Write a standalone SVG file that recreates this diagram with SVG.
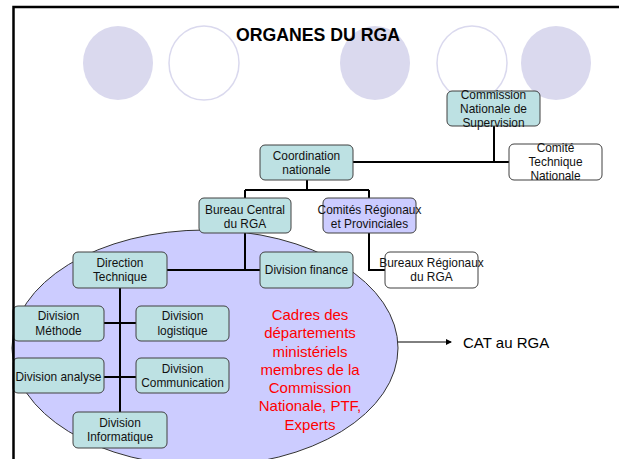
<svg xmlns="http://www.w3.org/2000/svg" width="619" height="459" viewBox="0 0 619 459">
<style>
.bx{fill:#BDE1E3;stroke:#404040;stroke-width:1}
.wh{fill:#FFFFFF;stroke:#404040;stroke-width:1}
.lv{fill:#CCCCFF;stroke:#404040;stroke-width:1}
.t{font-family:"Liberation Sans",Arial,sans-serif;font-size:11.9px;fill:#111;text-anchor:middle}
.c{stroke:#000;stroke-width:2;fill:none}
.cf{fill:#DAD9EE}
.co{fill:#FFFFFF;stroke:#DAD9EE;stroke-width:1.5}
.red{font-family:"Liberation Sans",Arial,sans-serif;font-size:15px;fill:#FF0000;text-anchor:middle}
</style>
<defs>
<marker id="ah" markerWidth="6" markerHeight="6" refX="5" refY="3" orient="auto" markerUnits="userSpaceOnUse">
<path d="M0,0 L6,3 L0,6 Z" fill="#000"/>
</marker>
</defs>
<rect x="0" y="0" width="619" height="459" fill="#FFFFFF"/>
<g id="deco">
<ellipse class="cf" cx="118" cy="63" rx="35" ry="37"/>
<ellipse class="co" cx="204" cy="63" rx="35" ry="37"/>
<ellipse class="cf" cx="375" cy="63" rx="35" ry="37"/>
<ellipse class="co" cx="472" cy="63" rx="35" ry="37"/>
<ellipse class="cf" cx="556" cy="63" rx="35" ry="37"/>
</g>
<text x="318" y="41" font-family="Liberation Sans,Arial,sans-serif" font-size="17.7" font-weight="bold" text-anchor="middle" fill="#000">ORGANES DU RGA</text>
<ellipse id="cat-ellipse" cx="205" cy="348" rx="193" ry="118" fill="#CCCCFF" stroke="#333" stroke-width="1"/>
<g id="connectors">
<path class="c" d="M494,126 V162 M353,162 H509"/>
<path class="c" d="M307,180 V190 M245,190 H369 M245,190 V198 M369,190 V198"/>
<path class="c" d="M245,233 V270 M167,270 H260"/>
<path class="c" d="M369,233 V270 H385"/>
<path class="c" d="M120,288 V412"/>
<path class="c" d="M104,323 H136 M104,377 H136"/>
<path d="M398,342 H451" stroke="#000" stroke-width="1" marker-end="url(#ah)"/>
</g>
<g id="commission"><rect class="bx" x="447" y="91" width="93" height="35" rx="5"/>
<text class="t" x="493.5" y="99">Commission</text><text class="t" x="493.5" y="113">Nationale de</text><text class="t" x="493.5" y="127">Supervision</text></g>
<g id="comite"><rect class="wh" x="509" y="144" width="93" height="36" rx="5"/>
<text class="t" x="555.5" y="152">Comité</text><text class="t" x="555.5" y="166">Technique</text><text class="t" x="555.5" y="180">Nationale</text></g>
<g id="coordination"><rect class="bx" x="260" y="145" width="93" height="35" rx="5"/>
<text class="t" x="306.5" y="160">Coordination</text><text class="t" x="306.5" y="174">nationale</text></g>
<g id="bureau-central"><rect class="bx" x="199" y="198" width="92" height="35" rx="5"/>
<text class="t" x="245" y="214">Bureau Central</text><text class="t" x="245" y="228">du RGA</text></g>
<g id="comites-regionaux"><rect class="lv" x="323" y="198" width="93" height="35" rx="5"/>
<text class="t" x="369.5" y="214">Comités Régionaux</text><text class="t" x="369.5" y="228">et Provinciales</text></g>
<g id="direction-technique"><rect class="bx" x="73" y="252" width="94" height="36" rx="5"/>
<text class="t" x="120" y="267">Direction</text><text class="t" x="120" y="281">Technique</text></g>
<g id="division-finance"><rect class="bx" x="260" y="252" width="93" height="36" rx="5"/>
<text class="t" x="306.5" y="274">Division finance</text></g>
<g id="bureaux-regionaux"><rect class="wh" x="385" y="252" width="93" height="36" rx="5"/>
<text class="t" x="431.5" y="267">Bureaux Régionaux</text><text class="t" x="431.5" y="281">du RGA</text></g>
<g id="division-methode"><rect class="bx" x="13" y="306" width="91" height="35" rx="5"/>
<text class="t" x="58.5" y="320">Division</text><text class="t" x="58.5" y="335">Méthode</text></g>
<g id="division-logistique"><rect class="bx" x="136" y="306" width="93" height="35" rx="5"/>
<text class="t" x="182.5" y="320">Division</text><text class="t" x="182.5" y="335">logistique</text></g>
<g id="division-analyse"><rect class="bx" x="13" y="358" width="91" height="35" rx="5"/>
<text class="t" x="58.5" y="381">Division analyse</text></g>
<g id="division-communication"><rect class="bx" x="136" y="358" width="93" height="35" rx="5"/>
<text class="t" x="182.5" y="373">Division</text><text class="t" x="182.5" y="387">Communication</text></g>
<g id="division-informatique"><rect class="bx" x="73" y="412" width="94" height="36" rx="5"/>
<text class="t" x="120" y="427">Division</text><text class="t" x="120" y="441">Informatique</text></g>
<g id="cadres">
<text class="red" x="310" y="320">Cadres des</text>
<text class="red" x="310" y="338">départements</text>
<text class="red" x="310" y="357">ministériels</text>
<text class="red" x="310" y="375">membres de la</text>
<text class="red" x="310" y="393">Commission</text>
<text class="red" x="310" y="411">Nationale, PTF,</text>
<text class="red" x="310" y="430">Experts</text>
</g>
<g id="cat"><text x="463" y="348" font-family="Liberation Sans,Arial,sans-serif" font-size="15" fill="#000">CAT au RGA</text></g>
<path d="M13.5,459 V7 H619" fill="none" stroke="#000" stroke-width="2.5"/>
</svg>
